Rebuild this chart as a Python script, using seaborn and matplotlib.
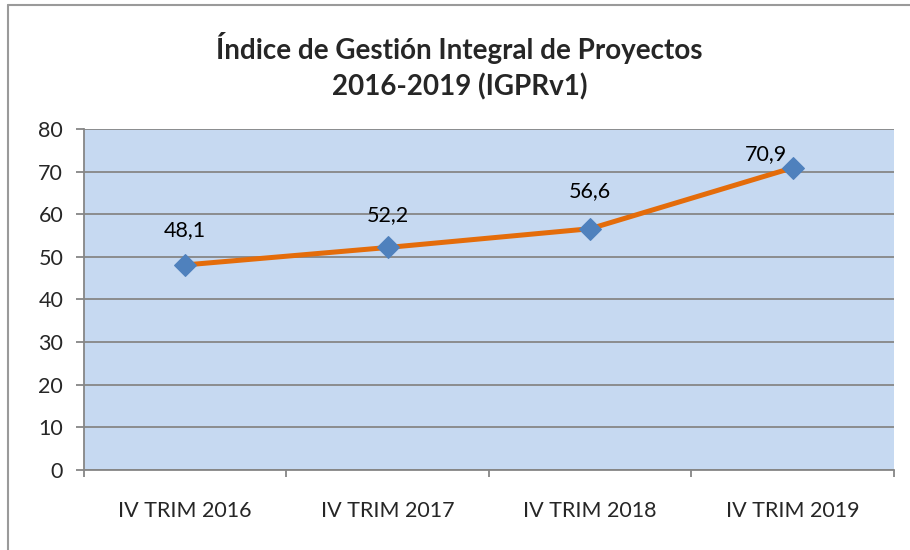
import pandas as pd
import seaborn as sns
import matplotlib.pyplot as plt
from matplotlib.lines import Line2D

# Chart data
periodos = ['IV TRIM 2016', 'IV TRIM 2017', 'IV TRIM 2018', 'IV TRIM 2019']
indice = [48.1, 52.2, 56.6, 70.9]
y_ticks = [0, 10, 20, 30, 40, 50, 60, 70, 80]

df = pd.DataFrame({'periodo': periodos, 'indice': indice})

sns.set_style('white')
plt.rcParams['font.family'] = ['Lato', 'DejaVu Sans']

fig = plt.figure(figsize=(9.1, 5.5), dpi=100)
ax = fig.add_axes([0.0923, 0.1455, 0.8901, 0.62])

ax.set_facecolor('#C6D9F1')
sns.lineplot(data=df, x='periodo', y='indice', ax=ax, color='#E46C0A',
             linewidth=3.6, marker='D', markersize=11,
             markerfacecolor='#4F81BD', markeredgecolor='#4F81BD', zorder=3)

# Data labels with decimal comma
label_offsets = [(0, 25), (0, 23), (0, 27), (-19, 10)]
for i, (v, off) in enumerate(zip(indice, label_offsets)):
    ax.annotate(f'{v:.1f}'.replace('.', ','), (i, v), xytext=off,
                textcoords='offset points', ha='center', va='center',
                fontsize=15.5, color='black')

ax.set_ylim(0, 80)
ax.set_xlim(-0.5, 3.5)
ax.set_yticks(y_ticks)
ax.set_xticks(range(len(periodos)))
ax.set_xticklabels(periodos)
ax.set_xticks([-0.5, 0.5, 1.5, 2.5, 3.5], minor=True)
ax.set_xlabel('')
ax.set_ylabel('')

ax.grid(axis='y', color='#868686', linewidth=1.3)
ax.set_axisbelow(True)
for s in ['top', 'right']:
    ax.spines[s].set_visible(False)
for s in ['left', 'bottom']:
    ax.spines[s].set_color('#868686')
    ax.spines[s].set_linewidth(1.3)

ax.tick_params(axis='y', which='major', left=True, length=6, width=1.3,
               color='#868686', pad=9, labelsize=15.5)
ax.tick_params(axis='x', which='major', bottom=False, length=0, pad=22,
               labelsize=15.5)
ax.tick_params(axis='x', which='minor', bottom=True, length=5, width=1.3,
               color='#868686')

fig.text(0.505, 0.88, 'Índice de Gestión Integral de Proyectos\n2016-2019 (IGPRv1)',
         ha='center', va='center', fontsize=20, fontweight='bold',
         linespacing=1.4)

# Outer chart border (left and top visible)
fig.add_artist(Line2D([8 / 910, 8 / 910], [0, 1 - 5 / 550], color='#9A9A9A',
                      linewidth=1.5, transform=fig.transFigure))
fig.add_artist(Line2D([8 / 910, 1], [1 - 5 / 550, 1 - 5 / 550], color='#9A9A9A',
                      linewidth=1.5, transform=fig.transFigure))

fig.savefig('out.png', dpi=100)
